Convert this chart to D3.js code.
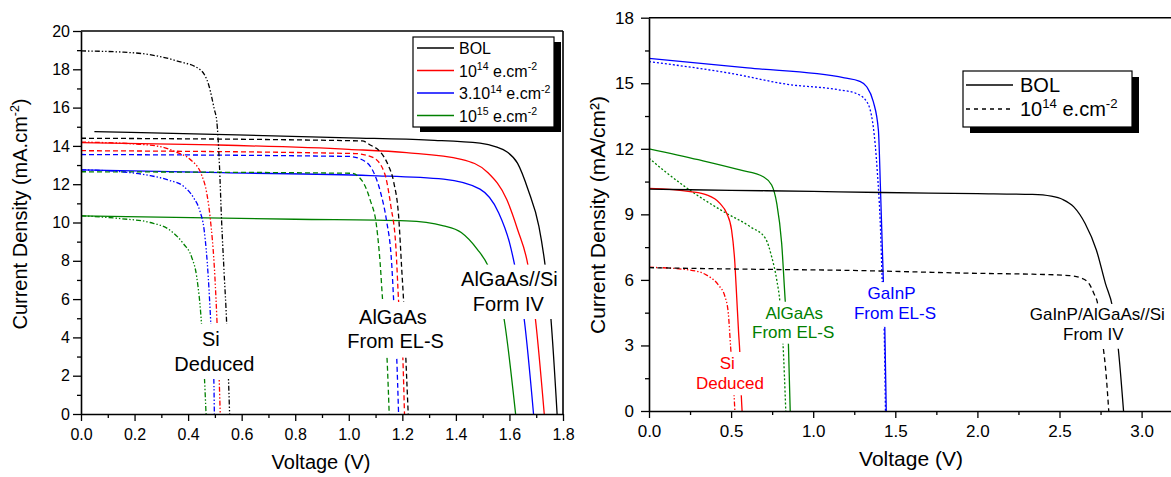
<!DOCTYPE html>
<html><head><meta charset="utf-8">
<script src="https://cdn.jsdelivr.net/npm/d3@7"></script>
<style>
body{margin:0;background:#fff}
svg{display:block}
text{font-family:"Liberation Sans",Arial,Helvetica,sans-serif}
</style>
</head><body>
<svg id="c" width="1171" height="477"></svg>
<script>
// ---------- tick labels ----------
const leftVoltTicks = [0,0.2,0.4,0.6,0.8,1.0,1.2,1.4,1.6,1.8];
const leftVoltMinor = [0.1,0.3,0.5,0.7,0.9,1.1,1.3,1.5,1.7];
const leftCurrTicks = [0,2,4,6,8,10,12,14,16,18,20];
const leftCurrMinor = [1,3,5,7,9,11,13,15,17,19];
const rightVoltTicks = [0,0.5,1.0,1.5,2.0,2.5,3.0];
const rightVoltMinor = [0.25,0.75,1.25,1.75,2.25,2.75];
const rightCurrTicks = [0,3,6,9,12,15,18];
const rightCurrMinor = [1.5,4.5,7.5,10.5,13.5,16.5];

// ---------- left panel: [V, J] ----------
// AlGaAs//Si from IV (solid)
const L_IV_BOL  = [[0.05,14.75],[0.5,14.6],[1.0,14.42],[1.3,14.3],[1.49,14.14],[1.55,13.95],[1.59,13.7],[1.63,13.1],[1.67,11.7],[1.71,9.8],[1.73,8.1],[1.755,4.96],[1.778,0]];
const L_IV_1e14 = [[0,14.17],[0.5,14.05],[1.0,13.82],[1.216,13.65],[1.42,13.3],[1.52,12.6],[1.59,11.2],[1.63,9.65],[1.67,7.7],[1.697,4.96],[1.73,0]];
const L_IV_3e14 = [[0,12.75],[0.526,12.6],[1.08,12.45],[1.354,12.26],[1.49,11.74],[1.56,10.5],[1.60,8.96],[1.62,7.74],[1.655,4.96],[1.69,0]];
const L_IV_1e15 = [[0,10.35],[0.8,10.17],[1.216,10.09],[1.354,9.83],[1.42,9.48],[1.48,8.6],[1.52,7.74],[1.58,4.96],[1.623,0]];
// AlGaAs from EL-S (dashed)
const L_EL_BOL  = [[0,14.4],[1.05,14.26],[1.08,14.05],[1.117,13.7],[1.147,13.0],[1.168,12.1],[1.186,10.35],[1.198,7.5],[1.205,5.8],[1.213,2.96],[1.222,0]];
const L_EL_1e14 = [[0,13.75],[1.023,13.6],[1.09,13.4],[1.133,12.6],[1.157,10.87],[1.176,8.7],[1.186,5.9],[1.202,2.9],[1.208,0]];
const L_EL_3e14 = [[0,13.55],[1.0,13.45],[1.06,13.2],[1.09,12.7],[1.12,11.5],[1.141,10.1],[1.16,7.9],[1.168,5.83],[1.179,2.96],[1.186,0]];
const L_EL_1e15 = [[0,12.65],[1.01,12.57],[1.05,12.17],[1.08,11.17],[1.104,9.78],[1.117,7.9],[1.126,6.0],[1.143,2.87],[1.151,0]];
// Si deduced (dash-dot-dot)
const L_SI_BOL  = [[0,18.96],[0.15,18.9],[0.25,18.78],[0.36,18.43],[0.443,18.0],[0.478,17.13],[0.498,15.9],[0.507,15.3],[0.517,13.0],[0.525,10.1],[0.534,7.5],[0.544,4.7],[0.551,1.74],[0.555,0]];
const L_SI_1e14 = [[0,14.2],[0.2,14.1],[0.3,13.95],[0.36,13.65],[0.407,13.3],[0.45,12.5],[0.47,11.5],[0.482,10.3],[0.50,7.17],[0.508,4.78],[0.516,1.83],[0.52,0]];
const L_SI_3e14 = [[0,12.75],[0.15,12.65],[0.258,12.45],[0.33,12.2],[0.382,11.9],[0.42,11.3],[0.444,10.6],[0.46,9.6],[0.475,7.2],[0.485,4.7],[0.496,1.8],[0.498,0]];
const L_SI_1e15 = [[0,10.35],[0.15,10.2],[0.258,10.0],[0.332,9.6],[0.382,8.9],[0.413,8.2],[0.432,7.17],[0.45,4.7],[0.461,1.9],[0.467,0]];

// ---------- right panel: [V, J] ----------
const R_GaInP_BOL  = [[0,16.14],[0.6,15.7],[1.19,15.25],[1.28,15.1],[1.326,14.84],[1.366,14.16],[1.397,12.86],[1.41,10.1],[1.427,6.0],[1.436,3.85],[1.445,0]];
const R_GaInP_1e14 = [[0,15.99],[0.5,15.45],[0.844,14.95],[1.157,14.7],[1.26,14.54],[1.326,14.16],[1.366,13.0],[1.39,11.0],[1.41,8.3],[1.42,6.0],[1.432,3.85],[1.44,0]];
const R_AlGaAs_BOL  = [[0,12.0],[0.3,11.5],[0.554,11.03],[0.696,10.72],[0.747,10.34],[0.778,9.5],[0.808,7.67],[0.83,5.0],[0.849,3.08],[0.86,0]];
const R_AlGaAs_1e14 = [[0,11.57],[0.1,10.95],[0.25,10.1],[0.455,9.12],[0.617,8.43],[0.709,7.9],[0.747,7.06],[0.778,6.0],[0.798,4.94],[0.816,3.08],[0.833,0]];
const R_Si_BOL  = [[0,10.19],[0.25,10.04],[0.351,9.89],[0.432,9.5],[0.473,9.05],[0.503,8.28],[0.523,6.76],[0.534,5.23],[0.546,3.54],[0.553,2.7],[0.562,0.72],[0.567,0]];
const R_Si_1e14 = [[0,6.58],[0.25,6.45],[0.351,6.22],[0.422,5.77],[0.463,5.23],[0.483,4.47],[0.497,2.94],[0.518,0.72],[0.523,0]];
const R_Tri_BOL  = [[0,10.15],[0.5,10.1],[1.0,10.05],[1.417,10.0],[2.0,9.95],[2.335,9.91],[2.45,9.83],[2.52,9.68],[2.587,9.34],[2.656,8.58],[2.725,7.36],[2.78,5.83],[2.823,4.76],[2.858,2.85],[2.89,0]];
const R_Tri_1e14 = [[0,6.56],[0.5,6.5],[1.19,6.44],[2.0,6.3],[2.335,6.26],[2.56,6.2],[2.63,6.09],[2.68,5.83],[2.71,5.37],[2.73,4.99],[2.766,2.93],[2.78,2.0],[2.80,0]];

// ---------- styles ----------
const BLACK='#000000', RED='#ff0000', BLUE='#0000ff', GREEN='#008000';
const DASH='5,3', DDOT='5,2,1.4,2,1.4,2', DOT='2,2', RDASH='5,3.5';

const svg = d3.select('#c');

function supText(sel, parts, size, supSize){
  let prevSup=false;
  parts.forEach(([t,sup])=>{
    const ts = sel.append('tspan').text(t);
    if(sup && !prevSup){ ts.attr('dy', -size*0.38).attr('font-size', supSize); }
    else if(!sup && prevSup){ ts.attr('dy', size*0.38); }
    else if(sup){ ts.attr('font-size', supSize); }
    prevSup=sup;
  });
}

function panel(o){
  const x = d3.scaleLinear().domain(o.xd).range(o.xr);
  const y = d3.scaleLinear().domain(o.yd).range(o.yr);
  const g = svg.append('g');
  const line = d3.line().x(d=>x(d[0])).y(d=>y(d[1])).curve(d3.curveMonotoneX);
  const cp = 'clip'+o.id;
  svg.append('clipPath').attr('id',cp).append('rect')
    .attr('x',o.xr[0]).attr('y',o.yr[1]).attr('width',o.xr[1]-o.xr[0]).attr('height',o.yr[0]-o.yr[1]);
  const cg = g.append('g').attr('clip-path',`url(#${cp})`);
  o.series.forEach(s=>{
    cg.append('path').attr('d',line(s.data)).attr('fill','none')
      .attr('stroke',s.color).attr('stroke-width',1.3)
      .attr('stroke-dasharray',s.dash||null);
  });
  o.labels.forEach(l=>{
    g.append('rect').attr('x',x(l.box[0])).attr('y',y(l.box[3]))
      .attr('width',x(l.box[1])-x(l.box[0])).attr('height',y(l.box[2])-y(l.box[3]))
      .attr('fill','#fff');
    l.lines.forEach((t,i)=>{
      g.append('text').attr('x',x(l.at[i])).attr('y',y(l.base[i]))
        .attr('text-anchor','middle').attr('fill',l.color)
        .attr('font-size',o.labelSize).text(t);
    });
  });
  const ax = g.append('g').attr('transform',`translate(0,${o.yr[0]})`)
    .call(d3.axisBottom(x).tickValues(o.xt).tickSize(7).tickPadding(o.xpad).tickSizeOuter(0).tickFormat(d3.format('.1f')));
  const axm = g.append('g').attr('transform',`translate(0,${o.yr[0]})`)
    .call(d3.axisBottom(x).tickValues(o.xm).tickSize(4).tickFormat(''));
  axm.select('.domain').remove();
  const ay = g.append('g').attr('transform',`translate(${o.xr[0]},0)`)
    .call(d3.axisLeft(y).tickValues(o.yt).tickSize(8).tickPadding(o.ypad).tickSizeOuter(0).tickFormat(d3.format('d')));
  const aym = g.append('g').attr('transform',`translate(${o.xr[0]},0)`)
    .call(d3.axisLeft(y).tickValues(o.ym).tickSize(4).tickFormat(''));
  aym.select('.domain').remove();
  [ax,ay].forEach(a=>{
    a.selectAll('text').attr('font-size',o.tickSize).attr('fill','#000')
      .style('font-family','"Liberation Sans",Arial,sans-serif');
    a.select('.domain').attr('stroke','#000').attr('stroke-width',1.6);
  });
  [ax,ay,axm,aym].forEach(a=>a.selectAll('.tick line').attr('stroke','#000').attr('stroke-width',1.3));
  g.append('line').attr('x1',o.xr[0]).attr('x2',o.xr[1]).attr('y1',o.yr[1]).attr('y2',o.yr[1]).attr('stroke','#000').attr('stroke-width',1.6);
  g.append('line').attr('x1',o.xr[1]).attr('x2',o.xr[1]).attr('y1',o.yr[1]).attr('y2',o.yr[0]).attr('stroke','#000').attr('stroke-width',1.6);
  g.append('text').attr('x',o.xTitle[0]).attr('y',o.xTitle[1]).attr('text-anchor','middle')
    .attr('font-size',o.titleSize).text('Voltage (V)');
  const yt = g.append('text').attr('transform',`translate(${o.yTitle[0]},${o.yTitle[1]}) rotate(-90)`)
    .attr('text-anchor','middle').attr('font-size',o.titleSize);
  supText(yt, o.yTitleParts, o.titleSize, o.titleSize*0.62);
  const L=o.legend;
  g.append('rect').attr('x',L.x+L.sh[0]).attr('y',L.y+L.sh[1]).attr('width',L.w).attr('height',L.h).attr('fill','#000');
  g.append('rect').attr('x',L.x).attr('y',L.y).attr('width',L.w).attr('height',L.h).attr('fill','#fff').attr('stroke','#000').attr('stroke-width',1.2);
  L.items.forEach((it,i)=>{
    const ly = L.y + L.row0 + i*L.step;
    g.append('line').attr('x1',L.x+L.lx[0]).attr('x2',L.x+L.lx[1]).attr('y1',ly).attr('y2',ly)
      .attr('stroke',it.color).attr('stroke-width',1.3).attr('stroke-dasharray',it.dash||null);
    const t = g.append('text').attr('x',L.x+L.tx).attr('y',ly+L.tdy).attr('font-size',L.fs);
    supText(t, it.parts, L.fs, L.fs*0.66);
  });
}

panel({
  id:'L', xd:[0,1.8], xr:[81,563], yd:[0,20], yr:[414,31],
  xt:leftVoltTicks, xm:leftVoltMinor, yt:leftCurrTicks, ym:leftCurrMinor,
  xpad:8, ypad:3, tickSize:16, titleSize:20, labelSize:20,
  xTitle:[321,469], yTitle:[27,214],
  yTitleParts:[['Current Density (mA.cm',false],['-2',true],[')',false]],
  series:[
    {data:L_IV_BOL,color:BLACK},{data:L_IV_1e14,color:RED},{data:L_IV_3e14,color:BLUE},{data:L_IV_1e15,color:GREEN},
    {data:L_EL_BOL,color:BLACK,dash:DASH},{data:L_EL_1e14,color:RED,dash:DASH},{data:L_EL_3e14,color:BLUE,dash:DASH},{data:L_EL_1e15,color:GREEN,dash:DASH},
    {data:L_SI_BOL,color:BLACK,dash:DDOT},{data:L_SI_1e14,color:RED,dash:DDOT},{data:L_SI_3e14,color:BLUE,dash:DDOT},{data:L_SI_1e15,color:GREEN,dash:DDOT}
  ],
  labels:[
    {lines:['Si','Deduced'],at:[0.485,0.498],base:[3.57,2.26],box:[0.347,0.65,1.83,4.7],color:BLACK},
    {lines:['AlGaAs','From EL-S'],at:[1.165,1.175],base:[4.7,3.43],box:[0.995,1.36,2.95,5.85],color:BLACK},
    {lines:['AlGaAs//Si','Form IV'],at:[1.60,1.596],base:[6.66,5.39],box:[1.416,1.78,4.96,7.8],color:BLACK}
  ],
  legend:{x:413,y:37,w:141,h:90,sh:[7,5],row0:11,step:22.5,lx:[4,41],tx:46,tdy:6,fs:16,
    items:[
      {color:BLACK,parts:[['BOL',false]]},
      {color:RED,parts:[['10',false],['14',true],[' e.cm',false],['-2',true]]},
      {color:BLUE,parts:[['3.10',false],['14',true],[' e.cm',false],['-2',true]]},
      {color:GREEN,parts:[['10',false],['15',true],[' e.cm',false],['-2',true]]}
    ]}
});

panel({
  id:'R', xd:[0,3.2], xr:[649,649+3.2*164.2], yd:[0,18], yr:[411,17.7],
  xt:rightVoltTicks, xm:rightVoltMinor, yt:rightCurrTicks, ym:rightCurrMinor,
  xpad:7, ypad:7, tickSize:17, titleSize:21, labelSize:17,
  xTitle:[911,466], yTitle:[605,215],
  yTitleParts:[['Current Density (mA/cm²)',false]],
  series:[
    {data:R_GaInP_BOL,color:BLUE},{data:R_GaInP_1e14,color:BLUE,dash:DOT},
    {data:R_AlGaAs_BOL,color:GREEN},{data:R_AlGaAs_1e14,color:GREEN,dash:DOT},
    {data:R_Si_BOL,color:RED},{data:R_Si_1e14,color:RED,dash:DDOT},
    {data:R_Tri_BOL,color:BLACK},{data:R_Tri_1e14,color:BLACK,dash:RDASH}
  ],
  labels:[
    {lines:['Si','Deduced'],at:[0.477,0.493],base:[1.94,1.02],box:[0.28,0.71,0.72,2.7],color:RED},
    {lines:['AlGaAs','From EL-S'],at:[0.885,0.878],base:[4.23,3.36],box:[0.64,1.13,3.08,5.0],color:GREEN},
    {lines:['GaInP','From EL-S'],at:[1.477,1.498],base:[5.14,4.2],box:[1.23,1.77,3.85,5.9],color:BLUE},
    {lines:['GaInP/AlGaAs//Si','From IV'],at:[2.73,2.706],base:[4.15,3.24],box:[2.3,3.2,2.85,4.9],color:BLACK}
  ],
  legend:{x:963,y:71,w:169,h:56,sh:[7,6],row0:14,step:24,lx:[3,50],tx:57,tdy:7,fs:20,
    items:[
      {color:BLACK,parts:[['BOL',false]]},
      {color:BLACK,dash:'4,4',parts:[['10',false],['14',true],[' e.cm',false],['-2',true]]}
    ]}
});
</script>
</body></html>
